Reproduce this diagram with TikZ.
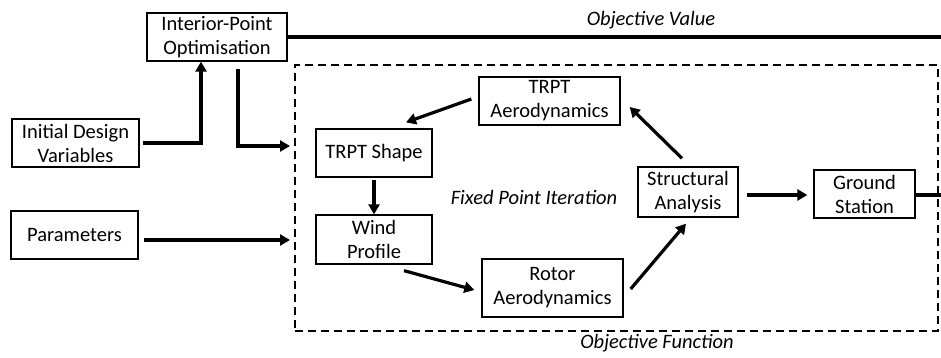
\documentclass[tikz,border=0pt]{standalone}
\usepackage{fontspec}
\setmainfont{Carlito}
\usetikzlibrary{arrows.meta}
\tikzset{
  blk/.style={draw, line width=1.3pt, inner sep=0pt, align=center, font=\fontsize{20.5}{24}\selectfont},
  arr/.style={line width=3.2pt, -{Triangle[length=10pt,width=11pt]}},
  thick line/.style={line width=3.4pt},
  lbl/.style={font=\fontsize{20.5}{24}\selectfont\itshape},
  dbox/.style={draw, line width=2pt, dash pattern=on 8pt off 5pt, inner sep=0pt}
}
\begin{document}
\begin{tikzpicture}[x=1pt,y=-1pt]
\useasboundingbox (0,0) rectangle (941,358);
% nodes
\node[dbox, minimum width=643pt, minimum height=266pt] (fbox) at (616.5,198) {};
\node[blk, minimum width=140pt, minimum height=48pt] (ipo) at (217,37) {Interior-Point\\Optimisation};
\node[blk, minimum width=127pt, minimum height=48pt] (idv) at (75.5,143) {Initial Design\\Variables};
\node[blk, minimum width=127pt, minimum height=48pt] (par) at (74.5,235) {Parameters};
\node[blk, minimum width=116pt, minimum height=48pt] (shape) at (374,153) {TRPT Shape};
\node[blk, minimum width=116pt, minimum height=49pt] (wind) at (374,239.5) {Wind\\Profile};
\node[blk, minimum width=141pt, minimum height=48pt] (taero) at (549.5,101) {TRPT\\Aerodynamics};
\node[blk, minimum width=141pt, minimum height=58pt] (raero) at (552.5,288) {Rotor\\Aerodynamics};
\node[blk, minimum width=100pt, minimum height=50pt] (sa) at (688,192) {Structural\\Analysis};
\node[blk, minimum width=101pt, minimum height=48pt] (gs) at (864.5,194) {Ground\\Station};
\node[lbl] (ov) at (651,20) {Objective Value};
\node[lbl] (fpi) at (534,197) {Fixed Point Iteration};
\node[lbl] (of) at (657,343) {Objective Function};
\coordinate (ovend) at (941,37);
\coordinate (gsend) at (941,195);
% connectors
\draw[thick line] (ipo.east) -- (ovend);
\draw[thick line] ([yshift=-1pt]gs.east) -- (gsend);
\draw[arr] ([xshift=3pt]idv.east) -| ([xshift=-16pt]ipo.south);
\draw[arr] ([xshift=21pt,yshift=-7pt]ipo.south) |- ([xshift=-4pt,yshift=52pt]fbox.west);
\draw[arr] ([xshift=5pt,yshift=-5pt]par.east) -- ([xshift=-4pt,yshift=-42pt]fbox.west);
\draw[arr] ([xshift=-7pt,yshift=2pt]taero.west) -- ([xshift=32pt,yshift=6pt]shape.north);
\draw[arr] ([yshift=-2pt]shape.south) -- (wind.north);
\draw[arr] ([xshift=30pt,yshift=-6pt]wind.south) -- ([xshift=-7pt,yshift=-2pt]raero.west);
\draw[arr] ([xshift=7pt,yshift=-1pt]raero.east) -- ([xshift=-2pt,yshift=-6pt]sa.south);
\draw[arr] ([xshift=-6pt,yshift=8pt]sa.north) -- ([xshift=9pt,yshift=-6pt]taero.east);
\draw[arr] ([xshift=8pt,yshift=-3pt]sa.east) -- ([xshift=-6pt,yshift=-1pt]gs.west);
\end{tikzpicture}
\end{document}
